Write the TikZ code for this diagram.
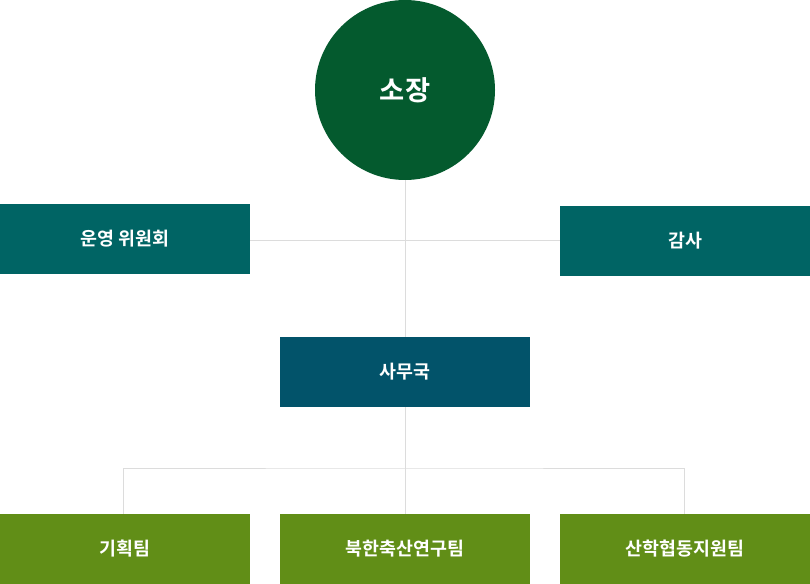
\documentclass[tikz,border=0pt]{standalone}
\usepackage{fontspec}
\newfontfamily\kr{Noto Sans CJK KR}[BoldFont={* Bold}]
\definecolor{chiefgreen}{HTML}{045A2E}
\definecolor{tealbox}{HTML}{006464}
\definecolor{bluebox}{HTML}{02536A}
\definecolor{olivebox}{HTML}{618E17}
\definecolor{linegray}{HTML}{DCDCDC}
\begin{document}
\begin{tikzpicture}[x=0.75pt,y=-0.75pt,
  unitbox/.style={rectangle,minimum width=187.5pt,minimum height=52.5pt,inner sep=0pt,text=white,font=\kr\bfseries\fontsize{13.8}{16}\selectfont},
  conn/.style={draw=linegray,line width=0.75pt}]
\useasboundingbox (0,0) rectangle (810,584);
\node[circle,fill=chiefgreen,minimum size=135pt,inner sep=0pt,text=white,font=\kr\bfseries\fontsize{20.5}{24}\selectfont] (chief) at (405,90) {소장};
\node[unitbox,fill=tealbox] (board) at (125,239) {운영 위원회};
\node[unitbox,fill=tealbox] (audit) at (685,241) {감사};
\node[unitbox,fill=bluebox] (office) at (405,372) {사무국};
\node[unitbox,fill=olivebox] (plan) at (125,549) {기획팀};
\node[unitbox,fill=olivebox] (north) at (405,549) {북한축산연구팀};
\node[unitbox,fill=olivebox] (coop) at (685,549) {산학협동지원팀};
\coordinate (mid) at (405,241);
\coordinate (split) at (405,468);
\draw[conn] (chief.south) -- (office.north);
\draw[conn] (board.east |- mid) -- (audit.west |- mid);
\draw[conn] (office.south) -- (north.north);
\draw[conn] ([xshift=-1.5pt]plan.north) |- (split) -| ([xshift=-0.75pt]coop.north);
\end{tikzpicture}
\end{document}
